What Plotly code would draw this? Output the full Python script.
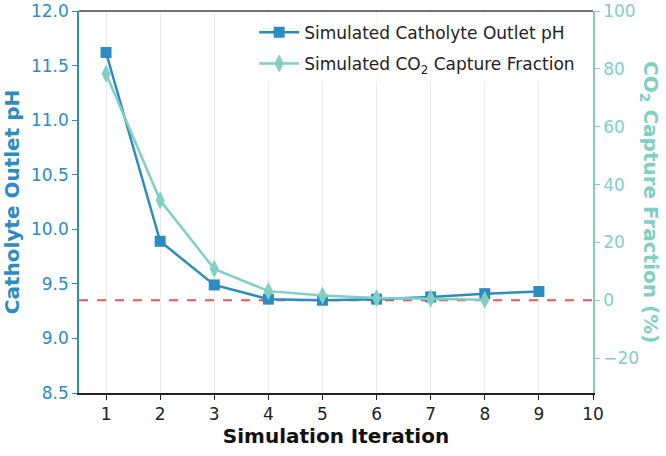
import plotly.graph_objects as go

iterations_ph = [1, 2, 3, 4, 5, 6, 7, 8, 9]
ph_values = [11.62, 9.89, 9.49, 9.36, 9.35, 9.36, 9.38, 9.41, 9.43]
iterations_co2 = [1, 2, 3, 4, 5, 6, 7, 8]
co2_values = [78.3, 34.6, 10.9, 3.2, 1.7, 0.8, 0.6, 0.2]
target_ph = 9.35
x_ticks = [1, 2, 3, 4, 5, 6, 7, 8, 9, 10]

blue = "#2b8cc4"
teal = "#7fcfc3"
font = "DejaVu Sans"

fig = go.Figure()
fig.add_trace(go.Scatter(
    x=iterations_ph, y=ph_values, mode="lines+markers",
    name="Simulated Catholyte Outlet pH", legendgroup="ph",
    line=dict(color=blue, width=2.5),
    marker=dict(symbol="square", size=11, color=blue),
))
fig.add_trace(go.Scatter(
    x=iterations_co2, y=co2_values, mode="lines+markers",
    name="Simulated CO<sub>2</sub> Capture Fraction", legendgroup="co2",
    line=dict(color=teal, width=2.5),
    marker=dict(symbol="diamond-tall", size=13, color=teal),
    yaxis="y2",
))
fig.add_shape(type="line", xref="paper", x0=0, x1=1, yref="y", y0=target_ph, y1=target_ph,
              layer="below",
              line=dict(color="rgba(255,60,60,0.9)", width=2, dash="dash"))

fig.update_layout(
    width=666, height=456,
    margin=dict(l=79, r=73, t=11, b=63),
    plot_bgcolor="white", paper_bgcolor="white",
    font=dict(family=font, size=16, color="#222"),
    showlegend=True,
    legend=dict(x=0.975, y=0.99, xanchor="right", yanchor="top",
                bgcolor="rgba(255,255,255,0.8)", font=dict(size=17, color="#222"),
                tracegroupgap=6, itemwidth=40),
    xaxis=dict(
        range=[0.5, 10], tickvals=x_ticks, showgrid=True, gridcolor="#ebebeb",
        ticks="outside", ticklen=5, tickcolor="#222", tickfont=dict(size=17, color="#222"),
        showline=True, linecolor="#222", linewidth=1.5, mirror=False, automargin=False,
        title=dict(text="<b>Simulation Iteration</b>", font=dict(size=20, color="#111"), standoff=6),
        zeroline=False,
    ),
    yaxis=dict(
        range=[8.5, 12.0], dtick=0.5, tickformat=".1f", showgrid=False,
        ticks="outside", ticklen=5, tickcolor=blue, tickfont=dict(size=17, color=blue),
        showline=True, linecolor=blue, linewidth=1.5, automargin=False,
        title=dict(text="<b>Catholyte Outlet pH</b>", font=dict(size=20, color=blue), standoff=8),
        zeroline=False,
    ),
    yaxis2=dict(
        range=[-32, 100], tickvals=[-20, 0, 20, 40, 60, 80, 100], overlaying="y", side="right",
        showgrid=False, ticks="outside", ticklen=5, tickcolor=teal, tickfont=dict(size=17, color=teal),
        showline=True, linecolor=teal, linewidth=1.5, automargin=False,
        zeroline=False,
    ),
    annotations=[dict(
        text="<b>CO<sub>2</sub> Capture Fraction (%)</b>", xref="paper", yref="paper",
        x=1.0, xshift=57, y=0.5, textangle=90, showarrow=False,
        font=dict(size=20, color=teal), xanchor="center", yanchor="middle",
    )],
)
# top spine
fig.add_shape(type="line", xref="paper", yref="paper", x0=0, x1=1, y0=1, y1=1,
              line=dict(color="#444", width=1.5))

fig.write_html("out.html", config={"displayModeBar": False},
               post_script="document.body.style.margin='0';")
